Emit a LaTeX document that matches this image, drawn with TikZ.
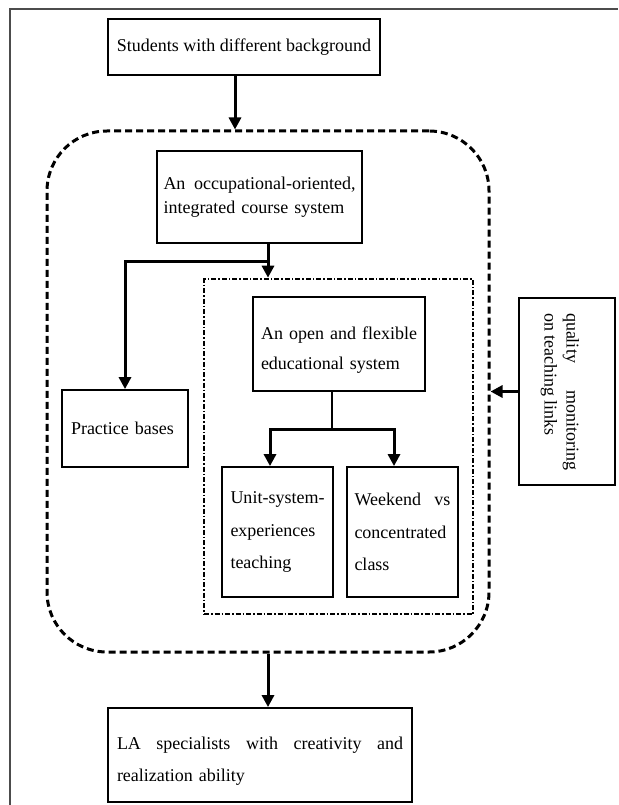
\documentclass[tikz,border=0pt]{standalone}
\usepackage{fontspec}
\setmainfont{Liberation Serif}
\usepackage{graphicx}
\usetikzlibrary{arrows.meta}
\begin{document}
\begin{tikzpicture}[x=1pt,y=-1pt,
  box/.style={draw, line width=1.8pt, inner sep=0pt, rectangle},
  arr/.style={line width=3pt, -{Triangle[length=12pt,width=12pt]}},
  fnt/.style={font=\fontsize{18}{#1}\selectfont},
]
\useasboundingbox (0,0) rectangle (618,805);
\fill[white] (0,0) rectangle (618,805);
\draw[line width=1.3pt, black!70] (10,805) -- (10,9) -- (618,9);

\node[box, minimum width=272pt, minimum height=56pt, fnt=20pt] (students) at (244,47) {Students with different background};

\node[draw, line width=3pt, dash pattern=on 7pt off 4pt, rounded corners=60pt, minimum width=442pt, minimum height=521pt, inner sep=0pt] (outer) at (268,391.5) {};

\node[box, minimum width=205pt, minimum height=92pt, text width=192pt, align=left, fnt=24pt] (occ) at (259.5,197) {\makebox[192pt][l]{An\hfill occupational-oriented,}\\integrated course system};

\node[draw, line width=2.6pt, dash pattern=on 5pt off 2pt on 1.5pt off 2pt, minimum width=269pt, minimum height=335pt, inner sep=0pt] (inner) at (338.5,446.5) {};

\node[box, minimum width=172pt, minimum height=94pt, text width=156pt, align=left, fnt=30pt] (open) at (339,344) {\rule{0pt}{25pt}\makebox[156pt][l]{An\hfill open\hfill and\hfill flexible}\\educational system};

\node[box, minimum width=126pt, minimum height=77pt, text width=108pt, align=left, fnt=20pt] (practice) at (125,428.5) {Practice bases};

\node[box, minimum width=111pt, minimum height=130pt, text width=94pt, align=left, fnt=32.5pt] (unit) at (277.5,532) {\mbox{Unit-system-}\\experiences\\teaching};

\node[box, minimum width=111pt, minimum height=130pt, text width=96pt, align=left, fnt=32.5pt] (weekend) at (402.5,532) {\makebox[96pt][l]{Weekend\hfill vs}\\concentrated\\class};

\node[box, minimum width=96pt, minimum height=187pt] (quality) at (567,391.5) {\rotatebox{-90}{\parbox{157pt}{\fontsize{18}{22pt}\selectfont\makebox[157pt][s]{quality monitoring}\\on teaching links}}\rule{14pt}{0pt}};

\node[box, minimum width=304pt, minimum height=94pt, text width=286pt, align=left, fnt=32pt] (la) at (260,755) {\rule{0pt}{25pt}\makebox[286pt][l]{LA\hfill specialists\hfill with\hfill creativity\hfill and}\\realization ability};

\draw[arr] ([xshift=-9pt]students.south) -- ([xshift=-9pt]students.south |- outer.north);

\coordinate (j1) at (268,261);
\draw[line width=3pt] ([xshift=8.5pt]occ.south) -- (j1);
\draw[arr] (j1) -- (j1 |- inner.north);
\draw[arr] (j1) -| (practice.north);

\coordinate (j2) at (332,429);
\draw[line width=1.5pt] ([xshift=-7pt]open.south) -- (j2);
\draw[arr] (j2) -| ([xshift=-7.5pt]unit.north);
\draw[arr] (j2) -| ([xshift=-8.5pt]weekend.north);

\draw[arr] (quality.west) -- (quality.west -| outer.east);
\draw[arr] (outer.south) -- (outer.south |- la.north);
\end{tikzpicture}
\end{document}
